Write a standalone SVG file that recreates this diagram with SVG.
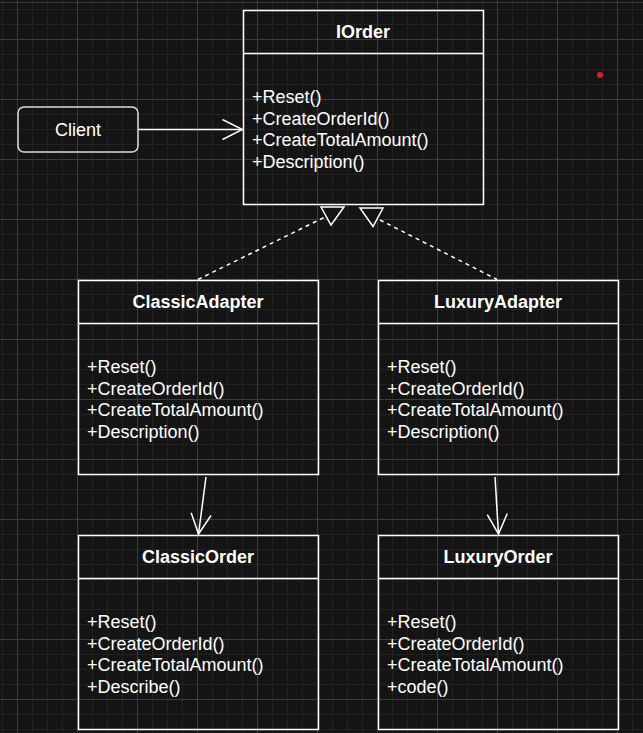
<svg xmlns="http://www.w3.org/2000/svg" width="643" height="733" viewBox="0 0 643 733">
<style>
.box{fill:none;stroke:#ffffff;stroke-width:1.5}
.sep{stroke:#ffffff;stroke-width:1.5}
.title{font-family:"Liberation Sans",Arial,sans-serif;font-size:18px;font-weight:bold;fill:#ffffff;text-anchor:middle}
.m{font-family:"Liberation Sans",Arial,sans-serif;font-size:18px;fill:#ffffff}
.solid{fill:none;stroke:#ffffff;stroke-width:1.5}
.dash{fill:none;stroke:#ffffff;stroke-width:1.5;stroke-dasharray:4 4}
.tri{fill:#141414;stroke:#ffffff;stroke-width:1.5}
</style>
<defs>
<pattern id="grid" patternUnits="userSpaceOnUse" x="17" y="39" width="60" height="60">
<rect x="15" y="0" width="1" height="60" fill="#222222"/>
<rect x="30" y="0" width="1" height="60" fill="#222222"/>
<rect x="45" y="0" width="1" height="60" fill="#222222"/>
<rect x="0" y="15" width="60" height="1" fill="#222222"/>
<rect x="0" y="30" width="60" height="1" fill="#222222"/>
<rect x="0" y="45" width="60" height="1" fill="#222222"/>
<rect x="0" y="0" width="1" height="60" fill="#3c3c3c"/>
<rect x="0" y="0" width="60" height="1" fill="#3c3c3c"/>
</pattern>
<marker id="open" viewBox="0 0 22 22" refX="21" refY="11" markerWidth="22" markerHeight="22" markerUnits="userSpaceOnUse" orient="auto">
<path d="M1,1 L21,11 L1,21" fill="none" stroke="#ffffff" stroke-width="1.5"/>
</marker>
</defs>
<rect x="0" y="0" width="643" height="733" fill="#141414"/>
<rect x="0" y="0" width="643" height="733" fill="url(#grid)"/>
<rect x="0" y="2" width="643" height="1" fill="#3a3a3a"/>
<circle cx="600" cy="75" r="3" fill="#e31b1b"/>

<g id="connectors">
<line class="solid" x1="138.5" y1="129.5" x2="242.5" y2="129.5" marker-end="url(#open)"/>
<line class="solid" x1="206" y1="477" x2="198.5" y2="534" marker-end="url(#open)"/>
<line class="solid" x1="495" y1="477" x2="498.5" y2="534" marker-end="url(#open)"/>
<line class="dash" x1="198" y1="279.5" x2="324" y2="217.5"/>
<line class="dash" x1="380" y1="220" x2="497" y2="279.5"/>
<polygon class="tri" points="321,207 344,207 331,225"/>
<polygon class="tri" points="360,208 383,208 373,226.5"/>
</g>

<g id="client">
<rect x="18" y="107" width="120" height="45" rx="6" ry="6" fill="none" stroke="#dddddd" stroke-width="1.5"/>
<text x="78" y="135.5" class="m" text-anchor="middle">Client</text>
</g>

<g id="iorder">
<rect class="box" x="243.5" y="10.5" width="240" height="194"/>
<line class="sep" x1="243.5" y1="53.5" x2="483.5" y2="53.5"/>
<text class="title" x="363" y="37.5">IOrder</text>
<text class="m" x="252" y="103">+Reset()</text>
<text class="m" x="252" y="124.5">+CreateOrderId()</text>
<text class="m" x="252" y="146">+CreateTotalAmount()</text>
<text class="m" x="252" y="167.5">+Description()</text>
</g>

<g id="classicadapter">
<rect class="box" x="78.5" y="280.5" width="240" height="194"/>
<line class="sep" x1="78.5" y1="323.5" x2="318.5" y2="323.5"/>
<text class="title" x="198" y="307.5">ClassicAdapter</text>
<text class="m" x="87" y="373">+Reset()</text>
<text class="m" x="87" y="394.5">+CreateOrderId()</text>
<text class="m" x="87" y="416">+CreateTotalAmount()</text>
<text class="m" x="87" y="437.5">+Description()</text>
</g>

<g id="luxuryadapter">
<rect class="box" x="378.5" y="280.5" width="240" height="194"/>
<line class="sep" x1="378.5" y1="323.5" x2="618.5" y2="323.5"/>
<text class="title" x="498" y="307.5">LuxuryAdapter</text>
<text class="m" x="387" y="373">+Reset()</text>
<text class="m" x="387" y="394.5">+CreateOrderId()</text>
<text class="m" x="387" y="416">+CreateTotalAmount()</text>
<text class="m" x="387" y="437.5">+Description()</text>
</g>

<g id="classicorder">
<rect class="box" x="78.5" y="535.5" width="240" height="194"/>
<line class="sep" x1="78.5" y1="578.5" x2="318.5" y2="578.5"/>
<text class="title" x="198" y="562.5">ClassicOrder</text>
<text class="m" x="87" y="628">+Reset()</text>
<text class="m" x="87" y="649.5">+CreateOrderId()</text>
<text class="m" x="87" y="671">+CreateTotalAmount()</text>
<text class="m" x="87" y="692.5">+Describe()</text>
</g>

<g id="luxuryorder">
<rect class="box" x="378.5" y="535.5" width="240" height="194"/>
<line class="sep" x1="378.5" y1="578.5" x2="618.5" y2="578.5"/>
<text class="title" x="498" y="562.5">LuxuryOrder</text>
<text class="m" x="387" y="628">+Reset()</text>
<text class="m" x="387" y="649.5">+CreateOrderId()</text>
<text class="m" x="387" y="671">+CreateTotalAmount()</text>
<text class="m" x="387" y="692.5">+code()</text>
</g>
</svg>
